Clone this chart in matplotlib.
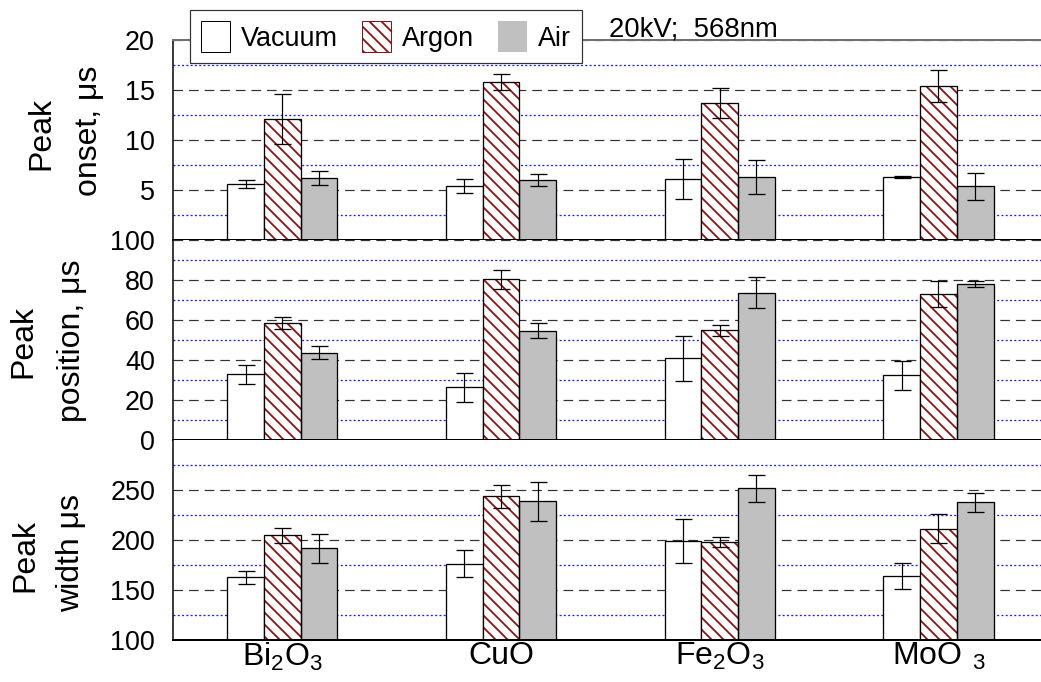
import matplotlib
matplotlib.use("Agg")
import matplotlib.pyplot as plt
from matplotlib.patches import Patch
import numpy as np

# ---- data -----------------------------------------------------------------
materials = [r"$\mathregular{Bi_2O_3}$", "CuO",
             r"$\mathregular{Fe_2O_3}$", r"$\mathregular{MoO\ _3}$"]
conditions = ["Vacuum", "Argon", "Air"]

onset_vacuum = [5.6, 5.4, 6.1, 6.3]
onset_vacuum_err = [0.4, 0.7, 2.0, 0.1]
onset_argon = [12.1, 15.8, 13.7, 15.4]
onset_argon_err = [2.5, 0.8, 1.5, 1.6]
onset_air = [6.2, 6.0, 6.3, 5.4]
onset_air_err = [0.7, 0.6, 1.7, 1.35]

position_vacuum = [32.8, 26.3, 40.8, 32.3]
position_vacuum_err = [4.9, 7.2, 11.3, 7.1]
position_argon = [58.3, 80.3, 54.8, 73.0]
position_argon_err = [3.0, 4.8, 2.9, 6.7]
position_air = [43.7, 54.7, 73.7, 77.8]
position_air_err = [3.3, 3.75, 7.6, 1.5]

width_vacuum = [162.7, 176.3, 199.0, 164.0]
width_vacuum_err = [6.2, 13.3, 21.8, 13.2]
width_argon = [204.7, 243.7, 198.0, 211.3]
width_argon_err = [7.5, 11.7, 4.7, 14.7]
width_air = [191.7, 238.7, 251.7, 237.7]
width_air_err = [14.3, 19.5, 13.8, 9.3]

onset_ticks = [5, 10, 15, 20]
position_ticks = [0, 20, 40, 60, 80, 100]
width_ticks = [100, 150, 200, 250]

# ---- style ----------------------------------------------------------------
DPI = 72
W, H = 1041, 682
plt.rcParams["font.family"] = ["Liberation Sans", "DejaVu Sans"]
plt.rcParams["mathtext.fontset"] = "custom"
plt.rcParams["mathtext.rm"] = "Liberation Sans"
plt.rcParams["hatch.linewidth"] = 1.8

HATCH_RED = "#8E1212"
HATCH = "\\\\"
AIR_GREY = "#C0C0C0"

fig = plt.figure(figsize=(W / DPI, H / DPI), dpi=DPI)


def px_rect(top, bottom, left=173, right=1041):
    return [left / W, 1 - bottom / H, (right - left) / W, (bottom - top) / H]


ax_on = fig.add_axes(px_rect(40, 240))
ax_pos = fig.add_axes(px_rect(240, 440))
ax_wid = fig.add_axes(px_rect(440, 640))

x = np.arange(len(materials))
bw = 0.168
span = 868 / 218.7

panels = [
    (ax_on, (onset_vacuum, onset_argon, onset_air),
     (onset_vacuum_err, onset_argon_err, onset_air_err),
     (0, 20), onset_ticks, [2.5, 7.5, 12.5, 17.5]),
    (ax_pos, (position_vacuum, position_argon, position_air),
     (position_vacuum_err, position_argon_err, position_air_err),
     (0, 100), position_ticks, [10, 30, 50, 70, 90]),
    (ax_wid, (width_vacuum, width_argon, width_air),
     (width_vacuum_err, width_argon_err, width_air_err),
     (100, 300), width_ticks, [125, 175, 225, 275]),
]

for ax, vals, errs, ylim, ticks, minors in panels:
    ax.set_xlim(-0.5, -0.5 + span)
    ax.set_ylim(*ylim)
    ax.set_axisbelow(True)

    offsets = (-bw, 0.0, bw)
    base = ylim[0]
    # vacuum
    ax.bar(x + offsets[0], np.array(vals[0]) - base, bw, bottom=base,
           color="white", edgecolor="black", linewidth=1.3, zorder=2)
    # argon: hatched fill underneath, black outline on top
    ax.bar(x + offsets[1], np.array(vals[1]) - base, bw, bottom=base,
           color="white", edgecolor=HATCH_RED, linewidth=0, hatch=HATCH,
           zorder=2)
    ax.bar(x + offsets[1], np.array(vals[1]) - base, bw, bottom=base,
           fill=False, edgecolor="black", linewidth=1.3, zorder=2.1)
    # air
    ax.bar(x + offsets[2], np.array(vals[2]) - base, bw, bottom=base,
           color=AIR_GREY, edgecolor="black", linewidth=1.3, zorder=2)

    for off, v, e in zip(offsets, vals, errs):
        ax.errorbar(x + off, v, yerr=e, fmt="none", ecolor="black",
                    elinewidth=1.2, capsize=8.5, capthick=1.3, zorder=3)

    ax.set_yticks(ticks)
    ax.set_yticks(minors, minor=True)
    ax.tick_params(axis="y", which="both", length=0, pad=18, labelsize=27)
    ax.tick_params(axis="x", length=0)
    ax.grid(axis="y", which="major", color="#333333", linestyle=(0, (8, 5)),
            linewidth=1.2)
    ax.grid(axis="y", which="minor", color="#1a1aff", linestyle=(0, (1.5, 1.8)),
            linewidth=1.3)
    ax.spines["right"].set_visible(False)
    ax.spines["left"].set_linewidth(1.5)
    ax.spines["bottom"].set_linewidth(2)
    ax.spines["top"].set_visible(False)
    ax.set_xticks(x)
    ax.set_xticklabels([])

ax_on.spines["top"].set_visible(True)
ax_on.spines["top"].set_color("#707070")
ax_on.spines["top"].set_linewidth(2)

ax_wid.set_xticklabels(materials, fontsize=32)
ax_wid.tick_params(axis="x", pad=1)

# y-axis titles, two lines each
def side_text(s, xpx, ypx):
    fig.text(xpx / W, 1 - ypx / H, s, rotation=90, ha="center", va="center",
             fontsize=32)

side_text("Peak", 41, 133)
side_text("onset, μs", 89, 131)
side_text("Peak", 23, 341)
side_text("position, μs", 72, 341)
side_text("Peak", 25, 555)
side_text("width μs", 71, 553)

fig.text(609 / W, 1 - 37 / H, "20kV;  568nm", fontsize=27.5, va="baseline")

handles = [
    Patch(facecolor="white", edgecolor="black", linewidth=1),
    Patch(facecolor="white", edgecolor=HATCH_RED, linewidth=1, hatch=HATCH),
    Patch(facecolor=AIR_GREY, edgecolor="none"),
]
leg = fig.legend(handles, conditions, loc="upper left",
                 bbox_to_anchor=(190 / W, 1 - 10 / H), ncol=3,
                 fontsize=27, frameon=True, fancybox=False,
                 edgecolor="#333333", framealpha=1,
                 handlelength=1.07, handleheight=1.35, handletextpad=0.4,
                 columnspacing=0.9, borderpad=0.42, borderaxespad=0)
leg.get_frame().set_linewidth(1.2)

fig.savefig("out.png", dpi=DPI)
